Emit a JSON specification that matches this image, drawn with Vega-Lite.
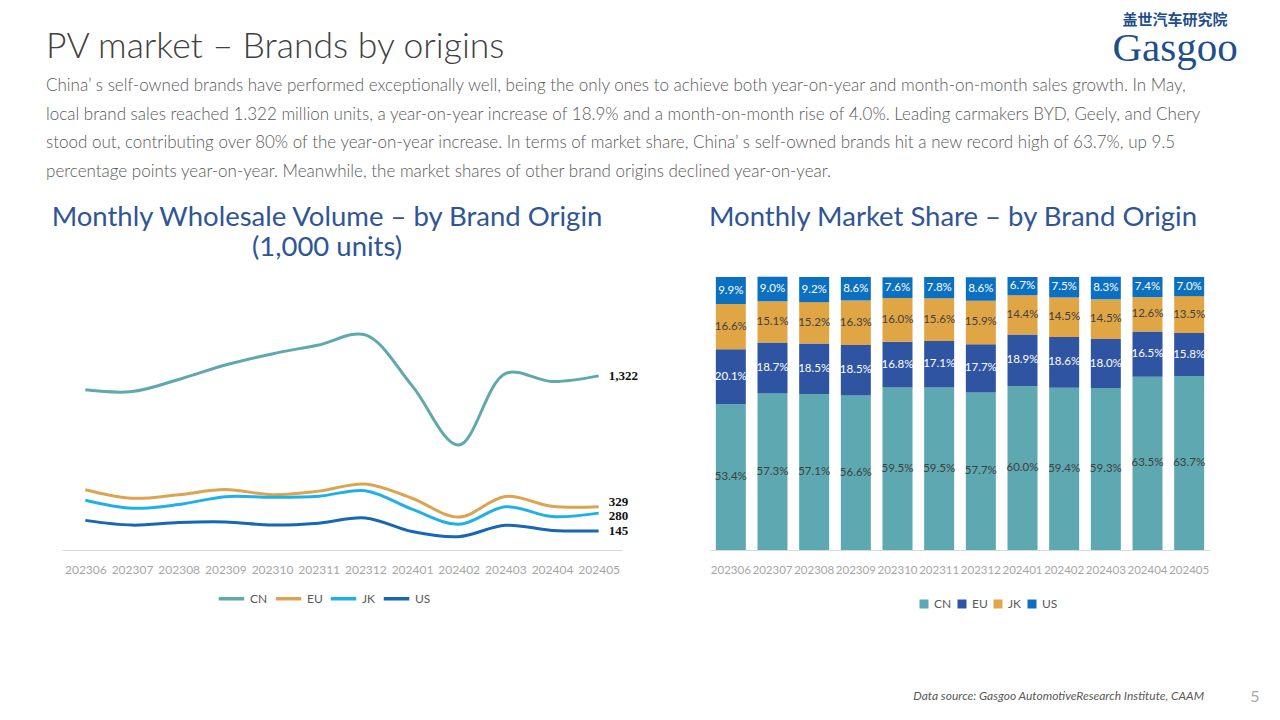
{
  "$schema": "https://vega.github.io/schema/vega-lite/v6.json",
  "background": "white",
  "padding": {"left": 46, "top": 13, "right": 6, "bottom": 6},
  "spacing": 0,
  "config": {
    "view": {"stroke": null},
    "font": "Lato",
    "title": {"font": "Lato", "fontWeight": "normal"},
    "axis": {"labelFont": "Lato"},
    "legend": {"labelFont": "Lato", "title": null, "orient": "none", "direction": "horizontal", "labelFontSize": 12, "labelColor": "#595959"}
  },
  "datasets": {
    "volume": [
      {"month": "202306", "origin": "CN", "volume": 1216}, {"month": "202306", "origin": "EU", "volume": 458}, {"month": "202306", "origin": "JK", "volume": 378}, {"month": "202306", "origin": "US", "volume": 225},
      {"month": "202307", "origin": "CN", "volume": 1203}, {"month": "202307", "origin": "EU", "volume": 393}, {"month": "202307", "origin": "JK", "volume": 317}, {"month": "202307", "origin": "US", "volume": 189},
      {"month": "202308", "origin": "CN", "volume": 1295}, {"month": "202308", "origin": "EU", "volume": 420}, {"month": "202308", "origin": "JK", "volume": 345}, {"month": "202308", "origin": "US", "volume": 209},
      {"month": "202309", "origin": "CN", "volume": 1405}, {"month": "202309", "origin": "EU", "volume": 459}, {"month": "202309", "origin": "JK", "volume": 405}, {"month": "202309", "origin": "US", "volume": 213},
      {"month": "202310", "origin": "CN", "volume": 1489}, {"month": "202310", "origin": "EU", "volume": 420}, {"month": "202310", "origin": "JK", "volume": 400}, {"month": "202310", "origin": "US", "volume": 190},
      {"month": "202311", "origin": "CN", "volume": 1557}, {"month": "202311", "origin": "EU", "volume": 447}, {"month": "202311", "origin": "JK", "volume": 408}, {"month": "202311", "origin": "US", "volume": 204},
      {"month": "202312", "origin": "CN", "volume": 1633}, {"month": "202312", "origin": "EU", "volume": 501}, {"month": "202312", "origin": "JK", "volume": 450}, {"month": "202312", "origin": "US", "volume": 243},
      {"month": "202401", "origin": "CN", "volume": 1248}, {"month": "202401", "origin": "EU", "volume": 393}, {"month": "202401", "origin": "JK", "volume": 310}, {"month": "202401", "origin": "US", "volume": 140},
      {"month": "202402", "origin": "CN", "volume": 797}, {"month": "202402", "origin": "EU", "volume": 250}, {"month": "202402", "origin": "JK", "volume": 195}, {"month": "202402", "origin": "US", "volume": 101},
      {"month": "202403", "origin": "CN", "volume": 1340}, {"month": "202403", "origin": "EU", "volume": 407}, {"month": "202403", "origin": "JK", "volume": 328}, {"month": "202403", "origin": "US", "volume": 188},
      {"month": "202404", "origin": "CN", "volume": 1279}, {"month": "202404", "origin": "EU", "volume": 332}, {"month": "202404", "origin": "JK", "volume": 254}, {"month": "202404", "origin": "US", "volume": 149},
      {"month": "202405", "origin": "CN", "volume": 1322}, {"month": "202405", "origin": "EU", "volume": 329}, {"month": "202405", "origin": "JK", "volume": 280}, {"month": "202405", "origin": "US", "volume": 145}
    ],
    "share": [
      {"month": "202306", "origin": "CN", "share": 0.534}, {"month": "202306", "origin": "EU", "share": 0.201}, {"month": "202306", "origin": "JK", "share": 0.166}, {"month": "202306", "origin": "US", "share": 0.099},
      {"month": "202307", "origin": "CN", "share": 0.573}, {"month": "202307", "origin": "EU", "share": 0.187}, {"month": "202307", "origin": "JK", "share": 0.151}, {"month": "202307", "origin": "US", "share": 0.090},
      {"month": "202308", "origin": "CN", "share": 0.571}, {"month": "202308", "origin": "EU", "share": 0.185}, {"month": "202308", "origin": "JK", "share": 0.152}, {"month": "202308", "origin": "US", "share": 0.092},
      {"month": "202309", "origin": "CN", "share": 0.566}, {"month": "202309", "origin": "EU", "share": 0.185}, {"month": "202309", "origin": "JK", "share": 0.163}, {"month": "202309", "origin": "US", "share": 0.086},
      {"month": "202310", "origin": "CN", "share": 0.595}, {"month": "202310", "origin": "EU", "share": 0.168}, {"month": "202310", "origin": "JK", "share": 0.160}, {"month": "202310", "origin": "US", "share": 0.076},
      {"month": "202311", "origin": "CN", "share": 0.595}, {"month": "202311", "origin": "EU", "share": 0.171}, {"month": "202311", "origin": "JK", "share": 0.156}, {"month": "202311", "origin": "US", "share": 0.078},
      {"month": "202312", "origin": "CN", "share": 0.577}, {"month": "202312", "origin": "EU", "share": 0.177}, {"month": "202312", "origin": "JK", "share": 0.159}, {"month": "202312", "origin": "US", "share": 0.086},
      {"month": "202401", "origin": "CN", "share": 0.600}, {"month": "202401", "origin": "EU", "share": 0.189}, {"month": "202401", "origin": "JK", "share": 0.144}, {"month": "202401", "origin": "US", "share": 0.067},
      {"month": "202402", "origin": "CN", "share": 0.594}, {"month": "202402", "origin": "EU", "share": 0.186}, {"month": "202402", "origin": "JK", "share": 0.145}, {"month": "202402", "origin": "US", "share": 0.075},
      {"month": "202403", "origin": "CN", "share": 0.593}, {"month": "202403", "origin": "EU", "share": 0.180}, {"month": "202403", "origin": "JK", "share": 0.145}, {"month": "202403", "origin": "US", "share": 0.083},
      {"month": "202404", "origin": "CN", "share": 0.635}, {"month": "202404", "origin": "EU", "share": 0.165}, {"month": "202404", "origin": "JK", "share": 0.126}, {"month": "202404", "origin": "US", "share": 0.074},
      {"month": "202405", "origin": "CN", "share": 0.637}, {"month": "202405", "origin": "EU", "share": 0.158}, {"month": "202405", "origin": "JK", "share": 0.135}, {"month": "202405", "origin": "US", "share": 0.070}
    ]
  },
  "vconcat": [
    {
      "bounds": "flush",
      "spacing": 38,
      "hconcat": [
        {
          "width": 1000, "height": 7,
          "data": {"values": []}, "mark": "text", "encoding": {},
          "title": {"text": "PV market – Brands by origins", "anchor": "start", "dx": -16, "offset": 4, "fontSize": 35.5, "fontWeight": 300, "color": "#404040"}
        },
        {
          "width": 150, "height": 7,
          "data": {"values": []}, "mark": "text", "encoding": {},
          "title": {"text": "盖世汽车研究院", "subtitle": "Gasgoo", "anchor": "middle", "offset": 0, "font": "Noto Sans CJK SC", "fontSize": 15, "fontWeight": "bold", "color": "#1f4e8c", "subtitleFont": "Liberation Serif", "subtitleFontSize": 41, "subtitleColor": "#1f4e8c", "subtitlePadding": 1}
        }
      ]
    },
    {
      "width": 1150, "height": 18,
      "data": {"values": []}, "mark": "text", "encoding": {},
      "title": {
        "text": [
          "China’ s self-owned brands have performed exceptionally well, being the only ones to achieve both year-on-year and month-on-month sales growth. In May,",
          "local brand sales reached 1.322 million units, a year-on-year increase of 18.9% and a month-on-month rise of 4.0%. Leading carmakers BYD, Geely, and Chery",
          "stood out, contributing over 80% of the year-on-year increase. In terms of market share, China’ s self-owned brands hit a new record high of 63.7%, up 9.5",
          "percentage points year-on-year. Meanwhile, the market shares of other brand origins declined year-on-year."
        ],
        "anchor": "start", "dx": -16, "offset": 4, "fontSize": 17, "lineHeight": 28.7, "fontWeight": 300, "color": "#595959"
      }
    },
    {
      "bounds": "flush",
      "spacing": 88,
      "resolve": {"scale": {"color": "independent"}, "legend": {"color": "independent"}},
      "hconcat": [
        {
          "width": 560, "height": 273,
          "data": {"name": "volume"},
          "title": {"text": ["Monthly Wholesale Volume – by Brand Origin", "(1,000 units)"], "fontSize": 27.5, "color": "#2f5597", "lineHeight": 30, "offset": 16, "anchor": "middle", "dx": -15},
          "encoding": {
            "x": {"field": "month", "type": "ordinal", "title": null, "scale": {"type": "point", "padding": 0.5},
                  "axis": {"labelAngle": 0, "ticks": false, "domainColor": "#d9d9d9", "labelColor": "#a6a6a6", "labelFontSize": 12, "labelPadding": 14, "grid": false}},
            "y": {"field": "volume", "type": "quantitative", "scale": {"domain": [0, 2073], "nice": false}, "axis": null}
          },
          "layer": [
            {
              "mark": {"type": "line", "interpolate": "catmull-rom", "strokeWidth": 3},
              "encoding": {
                "color": {"field": "origin", "type": "nominal",
                  "scale": {"domain": ["CN", "EU", "JK", "US"], "range": ["#5fa8ad", "#dca451", "#20b0e8", "#1767b3"]},
                  "legend": {"symbolType": "stroke", "symbolStrokeWidth": 3.5, "symbolSize": 650, "labelOffset": 4, "columnPadding": 0, "legendX": 155, "legendY": 307}}
              }
            },
            {
              "transform": [{"filter": "datum.month === '202405' && (datum.origin === 'CN' || datum.origin === 'US')"}],
              "mark": {"type": "text", "align": "left", "baseline": "middle", "dx": 10, "font": "Liberation Serif", "fontWeight": "bold", "fontSize": 13, "color": "#111111"},
              "encoding": {"text": {"field": "volume", "type": "quantitative", "format": ","}}
            },
            {
              "transform": [{"filter": "datum.month === '202405' && datum.origin === 'EU'"}],
              "mark": {"type": "text", "align": "left", "baseline": "middle", "dx": 10, "dy": -5, "font": "Liberation Serif", "fontWeight": "bold", "fontSize": 13, "color": "#111111"},
              "encoding": {"text": {"field": "volume", "type": "quantitative", "format": ","}}
            },
            {
              "transform": [{"filter": "datum.month === '202405' && datum.origin === 'JK'"}],
              "mark": {"type": "text", "align": "left", "baseline": "middle", "dx": 10, "dy": 2.5, "font": "Liberation Serif", "fontWeight": "bold", "fontSize": 13, "color": "#111111"},
              "encoding": {"text": {"field": "volume", "type": "quantitative", "format": ","}}
            }
          ]
        },
        {
          "width": 500, "height": 273,
          "data": {"name": "share"},
          "title": {"text": "Monthly Market Share – by Brand Origin", "fontSize": 27.5, "color": "#2f5597", "offset": 45, "anchor": "middle", "dx": -7},
          "encoding": {
            "x": {"field": "month", "type": "ordinal", "title": null, "scale": {"paddingInner": 0.28, "paddingOuter": 0.14},
                  "axis": {"labelAngle": 0, "ticks": false, "domainColor": "#d9d9d9", "labelColor": "#a6a6a6", "labelFontSize": 11.5, "labelPadding": 14, "grid": false}}
          },
          "layer": [
            {
              "mark": {"type": "bar"},
              "encoding": {
                "y": {"field": "share", "type": "quantitative", "stack": "zero", "scale": {"domain": [0, 1], "nice": false}, "axis": null},
                "color": {"field": "origin", "type": "nominal",
                  "scale": {"domain": ["CN", "EU", "JK", "US"], "range": ["#5ea9b1", "#2f55a2", "#e0a646", "#0b70c1"]},
                  "legend": {"symbolType": "square", "symbolSize": 81, "labelOffset": 4, "columnPadding": 4, "legendX": 208, "legendY": 321}},
                "order": {"field": "origin", "type": "ordinal", "sort": "ascending"}
              }
            },
            {
              "mark": {"type": "text", "fontSize": 11.5, "baseline": "middle"},
              "encoding": {
                "y": {"field": "share", "type": "quantitative", "stack": "zero", "bandPosition": 0.5},
                "detail": {"field": "origin", "type": "nominal"},
                "order": {"field": "origin", "type": "ordinal", "sort": "ascending"},
                "text": {"field": "share", "type": "quantitative", "format": ".1%"},
                "color": {"condition": {"test": "datum.origin === 'EU' || datum.origin === 'US'", "value": "#ffffff"}, "value": "#404040"}
              }
            }
          ]
        }
      ]
    },
    {
      "bounds": "flush",
      "spacing": 41,
      "hconcat": [
        {
          "width": 1142, "height": 79,
          "data": {"values": []}, "mark": "text", "encoding": {},
          "title": {"text": "Data source: Gasgoo AutomotiveResearch Institute, CAAM", "orient": "bottom", "anchor": "end", "fontSize": 12, "fontStyle": "italic", "color": "#595959", "offset": 2}
        },
        {
          "width": 20, "height": 79,
          "data": {"values": []}, "mark": "text", "encoding": {},
          "title": {"text": "5", "orient": "bottom", "anchor": "middle", "fontSize": 16, "color": "#a6a6a6", "offset": 0}
        }
      ]
    }
  ]
}
